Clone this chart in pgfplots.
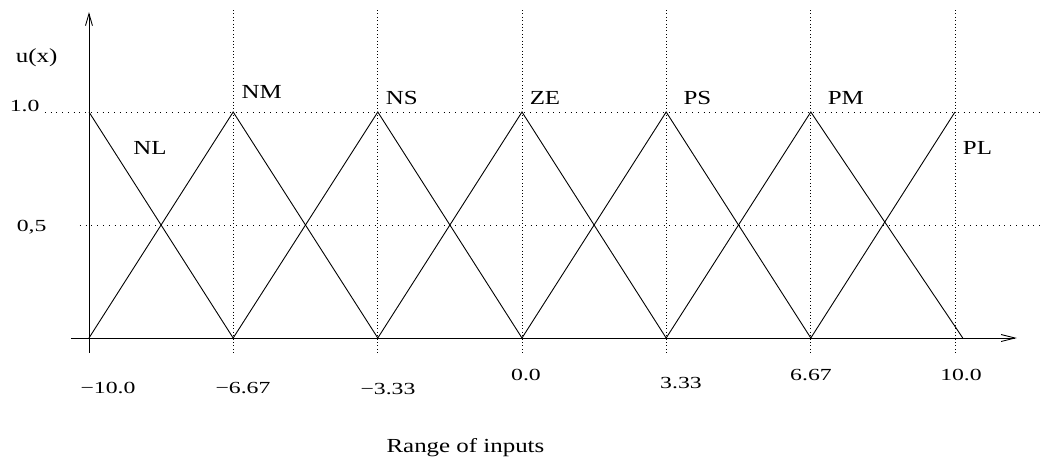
\documentclass[border=0pt]{standalone}
\usepackage{pgfplots}
\pgfplotsset{compat=1.18}
\usepackage{graphicx}
\usepackage{fontspec}
\setmainfont{Liberation Serif}
\usetikzlibrary{arrows.meta}
\newcommand{\numl}[1]{\scalebox{1.4}[1]{\fontsize{17}{20}\selectfont #1}}
\newcommand{\txtl}[1]{\scalebox{1.25}[1]{\fontsize{20}{24}\selectfont #1}}
\begin{document}
\begin{tikzpicture}
\begin{axis}[
  width=1045bp, height=457bp, scale only axis,
  xmin=-12.055, xmax=12.079, ymin=-0.5265, ymax=1.4956,
  hide axis, clip=false,
]
\path (rel axis cs:0,0) rectangle (rel axis cs:1,1);
% grid
\foreach \xx in {-6.67,-3.33,0,3.33,6.67,10}{
  \edef\tmp{\noexpand\draw[line width=0.8pt, dash pattern=on 0.8pt off 2.6pt] (axis cs:\xx,1.451) -- (axis cs:\xx,-0.075);}
  \tmp
}
\draw[line width=0.8pt, dash pattern=on 0.8pt off 5pt] (axis cs:-11.02,1) -- (axis cs:11.96,1);
\draw[line width=0.8pt, dash pattern=on 0.8pt off 5pt] (axis cs:-10.21,0.5) -- (axis cs:11.96,0.5);
% axes
\draw[line width=0.9pt, -{Straight Barb[length=14pt,width=7pt]}] (axis cs:-10.416,0) -- (axis cs:11.43,0);
\draw[line width=0.9pt, -{Straight Barb[length=12pt,width=7pt]}] (axis cs:-10,-0.066) -- (axis cs:-10,1.442);
% membership functions
\addplot[black, line width=0.9pt] coordinates {(-10,1) (-6.67,0)};
\addplot[black, line width=0.9pt] coordinates {(-10,0) (-6.67,1) (-3.33,0)};
\addplot[black, line width=0.9pt] coordinates {(-6.67,0) (-3.33,1) (0,0)};
\addplot[black, line width=0.9pt] coordinates {(-3.33,0) (0,1) (3.33,0)};
\addplot[black, line width=0.9pt] coordinates {(0,0) (3.33,1) (6.67,0)};
\addplot[black, line width=0.9pt] coordinates {(3.33,0) (6.67,1) (10.18,0)};
\addplot[black, line width=0.9pt] coordinates {(6.67,0) (10,1)};
% labels
\tikzset{lab/.style={anchor=base, inner sep=0pt}}
\node[lab] at (axis cs:-11.208,1.221) {\txtl{u(x)}};
\node[lab] at (axis cs:-11.487,1.0) {\numl{1.0}};
\node[lab] at (axis cs:-11.323,0.473) {\numl{0,5}};
\node[lab] at (axis cs:-8.591,0.810) {\txtl{NL}};
\node[lab] at (axis cs:-6.012,1.061) {\txtl{NM}};
\node[lab] at (axis cs:-2.778,1.031) {\txtl{NS}};
\node[lab] at (axis cs:0.531,1.031) {\txtl{ZE}};
\node[lab] at (axis cs:4.053,1.031) {\txtl{PS}};
\node[lab] at (axis cs:7.478,1.031) {\txtl{PM}};
\node[lab] at (axis cs:10.520,0.810) {\txtl{PL}};
\node[lab] at (axis cs:-1.305,-0.5075) {\txtl{Range of inputs}};
\node[lab] at (axis cs:-9.561,-0.2434) {\numl{−10.0}};
\node[lab] at (axis cs:-6.443,-0.2434) {\numl{−6.67}};
\node[lab] at (axis cs:-3.095,-0.2478) {\numl{−3.33}};
\node[lab] at (axis cs:0.092,-0.190) {\numl{0.0}};
\node[lab] at (axis cs:3.672,-0.2212) {\numl{3.33}};
\node[lab] at (axis cs:6.674,-0.190) {\numl{6.67}};
\node[lab] at (axis cs:10.139,-0.190) {\numl{10.0}};
\end{axis}
\end{tikzpicture}
\end{document}
